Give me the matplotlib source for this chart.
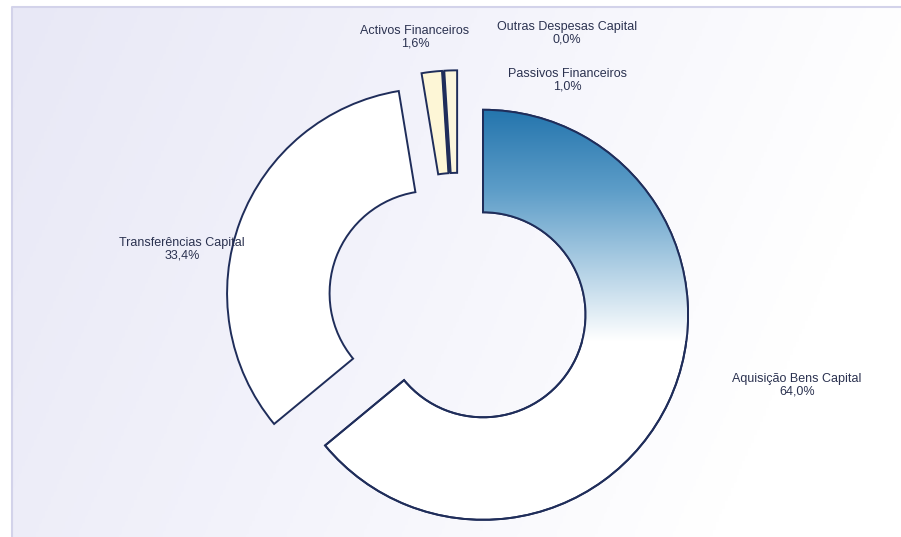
import numpy as np
import matplotlib
matplotlib.use("Agg")
import matplotlib.pyplot as plt
from matplotlib.patches import Wedge
from matplotlib.colors import LinearSegmentedColormap

# dados
categorias = ["Aquisição Bens Capital", "Transferências Capital", "Activos Financeiros",
              "Outras Despesas Capital", "Passivos Financeiros"]
valores = [64.0, 33.4, 1.6, 0.0, 1.0]
cores = ["white", "white", "#fdf6d6", "#1f2d5a", "#fbf5dc"]

# posicoes dos rotulos (pixels) e geometria
pos_rotulos = [(797, 385), (182, 249), (415, 37), (567, 33), (567, 80)]
W, H = 901, 537
cx, cy, R = 458, 303, 205   # centro e raio em pixels

fig = plt.figure(figsize=(W / 100, H / 100), dpi=100)
fig.patch.set_facecolor("white")

# fundo com degrade (lavanda a esquerda -> branco a direita)
bg = fig.add_axes([0, 0, 1, 1])
bg.set_xlim(0, W)
bg.set_ylim(H, 0)
bg.axis("off")
yy, xx = np.mgrid[0:1:200j, 0:1:300j]
t = np.clip(0.95 * xx + 0.25 * yy, 0, 1)
cm_bg = LinearSegmentedColormap.from_list("bg", ["#e8e8f6", "#f3f3fb", "#ffffff"])
bg.imshow(t, cmap=cm_bg, extent=[12, W, H, 7], aspect="auto", zorder=0)
bg.plot([12, 12, W], [H, 7, 7], color="#d3d3ea", lw=1.5, zorder=1)

# eixo do donut em unidades de raio
ax = fig.add_axes([0, 0, 1, 1])

wedges, _ = ax.pie(valores, colors=cores, startangle=90, counterclock=False,
                   explode=[0.135] * len(valores), radius=1,
                   wedgeprops=dict(width=0.5, edgecolor="#1f2d5a", linewidth=1.4))
# a fatia de 0,0% aparece apenas como um traco escuro
wedges[3].set_linewidth(2.5)

# degrade azul na fatia maior (escuro em cima, branco a meia altura)
grad = np.linspace(0, 1, 256).reshape(-1, 1)
cm_blue = LinearSegmentedColormap.from_list(
    "az", [(0, "#2475ad"), (0.35, "#5d9dc8"), (0.7, "#b4d2e6"), (1, "#ffffff")])
w0 = wedges[0]
c0 = w0.center
w0.set_zorder(1)
img = ax.imshow(grad, cmap=cm_blue, extent=[c0[0] - 1, c0[0] + 1, c0[1] - 0.13, c0[1] + 1],
                aspect="auto", zorder=1.5, origin="upper")
img.set_clip_path(w0)
ax.add_patch(Wedge(c0, 1, w0.theta1, w0.theta2, width=0.5, facecolor="none",
                   edgecolor="#1f2d5a", lw=1.4, zorder=2))
ax.set_xlim(-cx / R, (W - cx) / R)
ax.set_ylim(-(H - cy) / R, cy / R)
ax.set_aspect("auto")
ax.axis("off")

for nome, v, (px, py) in zip(categorias, valores, pos_rotulos):
    txt = nome + "\n" + f"{v:.1f}%".replace(".", ",")
    fig.text(px / W, 1 - py / H, txt, ha="center", va="center", fontsize=9,
             family=["Liberation Sans Narrow", "Liberation Sans"], color="#2b3250",
             linespacing=1.0)

fig.savefig("out.png", dpi=100)
